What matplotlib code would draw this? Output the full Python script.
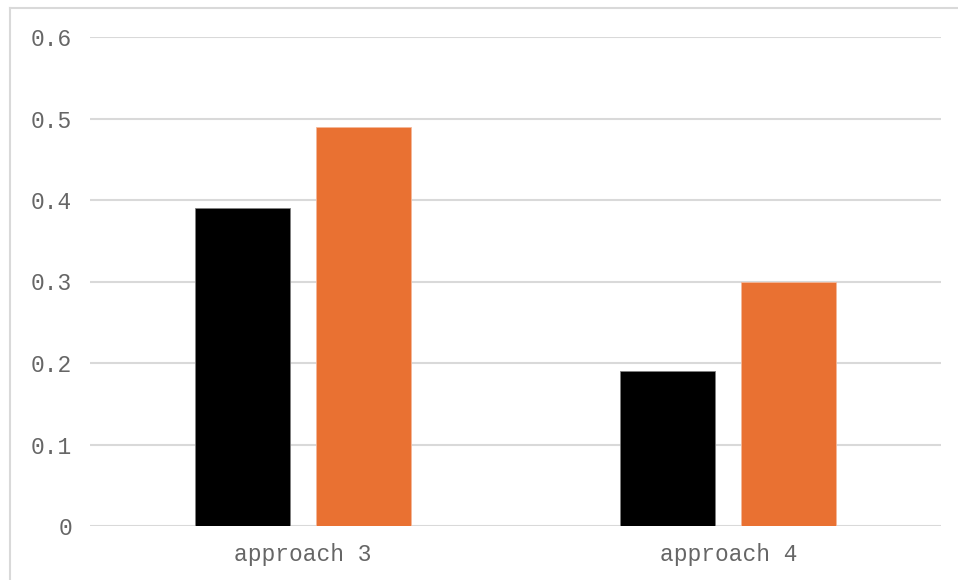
import matplotlib
matplotlib.use("Agg")
import matplotlib.pyplot as plt
from matplotlib.lines import Line2D
import numpy as np

categories = ["approach 3", "approach 4"]
series_a = [0.39, 0.19]
series_b = [0.49, 0.30]
y_ticks = [0, 0.1, 0.2, 0.3, 0.4, 0.5, 0.6]
y_tick_labels = ["0", "0.1", "0.2", "0.3", "0.4", "0.5", "0.6"]

W, H = 958, 580
fig = plt.figure(figsize=(W / 100, H / 100), dpi=100)
fig.patch.set_facecolor("white")

# plot area in pixels: left 90, right 941, top 37 (0.6), bottom 526 (0)
ax = fig.add_axes([90 / W, 1 - 526 / H, (941 - 90) / W, (526 - 37) / H])

x = np.arange(len(categories))
width = 0.2233
offset = 0.1422
ax.bar(x - offset, series_a, width, color="#000000", edgecolor="#7f7f7f", linewidth=0.6, zorder=3)
ax.bar(x + offset, series_b, width, color="#E97132", edgecolor="#f4b89a", linewidth=0.6, zorder=3)

ax.set_xlim(-0.5, len(categories) - 0.5)
ax.set_ylim(0, 0.6)
ax.set_yticks(y_ticks)
ax.set_yticklabels(y_tick_labels)
ax.set_xticks(x)
ax.set_xticklabels(categories)

font = dict(family=["Liberation Mono", "DejaVu Sans Mono"], size=16.5)
for lab in ax.get_yticklabels() + ax.get_xticklabels():
    lab.set_fontfamily(font["family"])
    lab.set_fontsize(font["size"])
    lab.set_color("#666666")

ax.tick_params(axis="both", length=0)
ax.tick_params(axis="y", pad=13)
ax.tick_params(axis="x", pad=12)
ax.grid(axis="y", color="#d9d9d9", linewidth=1.5, zorder=0)
ax.set_axisbelow(True)
for s in ax.spines.values():
    s.set_visible(False)

# chart frame: top and left edges
fig.add_artist(Line2D([10 / W, 1.0], [1 - 8 / H, 1 - 8 / H], color="#d9d9d9", linewidth=1.5))
fig.add_artist(Line2D([10 / W, 10 / W], [0, 1 - 8 / H], color="#d9d9d9", linewidth=1.5))

fig.savefig("out.png", dpi=100)
